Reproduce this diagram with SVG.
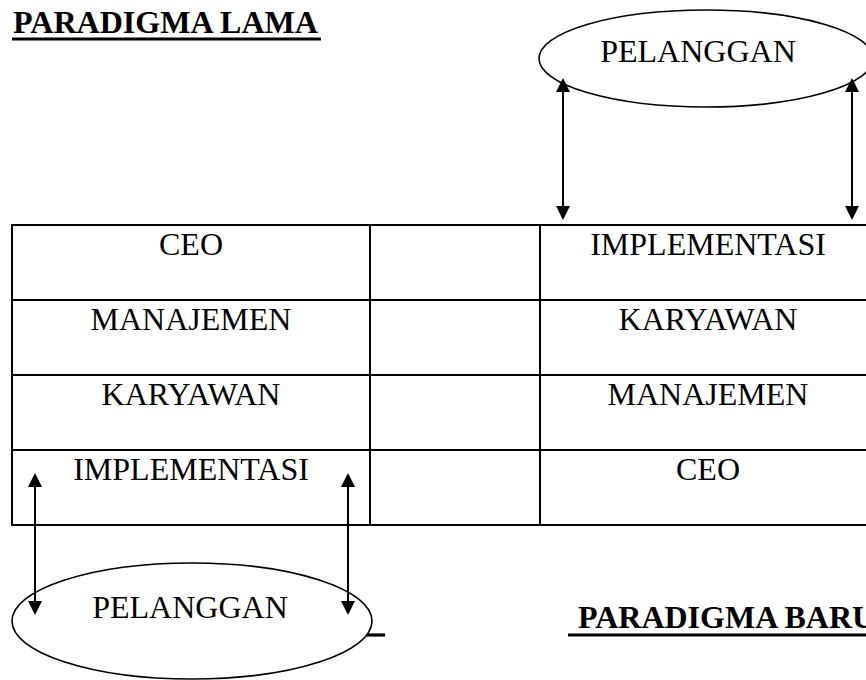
<svg xmlns="http://www.w3.org/2000/svg" width="866" height="680" viewBox="0 0 866 680">
<style>
.t{font-family:"Liberation Serif","Times New Roman",serif;font-size:32px;fill:#000;text-anchor:middle}
.h{font-family:"Liberation Serif","Times New Roman",serif;font-size:32px;font-weight:bold;fill:#000}
.g{stroke:#000;stroke-width:2;fill:none}
.e{stroke:#000;stroke-width:1.6;fill:#fff}
.c{stroke:#000;stroke-width:2;fill:none;marker-start:url(#ah);marker-end:url(#ah)}
.u{stroke:#000;stroke-width:3.2}
</style>
<defs>
<marker id="ah" viewBox="0 0 14 14" refX="0" refY="7" markerWidth="14" markerHeight="14" markerUnits="userSpaceOnUse" orient="auto-start-reverse">
<path d="M0,0 L14,7 L0,14 z" fill="#000"/>
</marker>
</defs>
<rect width="866" height="680" fill="#fff"/>
<g id="title-lama">
<text class="h" x="13" y="33" textLength="305" lengthAdjust="spacingAndGlyphs">PARADIGMA LAMA</text>
<line class="u" x1="12" y1="39" x2="321" y2="39"/>
</g>
<g id="title-baru">
<line class="u" x1="360" y1="635" x2="385" y2="635"/>
<text class="h" x="578" y="628">PARADIGMA BARU</text>
<line class="u" x1="568" y1="635" x2="880" y2="635"/>
</g>
<g id="table">
<rect class="g" x="12" y="225" width="866" height="300"/>
<line class="g" x1="12" y1="300" x2="878" y2="300"/>
<line class="g" x1="12" y1="375" x2="878" y2="375"/>
<line class="g" x1="12" y1="450" x2="878" y2="450"/>
<line class="g" x1="370" y1="225" x2="370" y2="525"/>
<line class="g" x1="540" y1="225" x2="540" y2="525"/>
</g>
<g id="lama-ceo"><text class="t" x="191" y="255">CEO</text></g>
<g id="lama-manajemen"><text class="t" x="191" y="330">MANAJEMEN</text></g>
<g id="lama-karyawan"><text class="t" x="191" y="405">KARYAWAN</text></g>
<g id="lama-implementasi"><text class="t" x="191" y="480">IMPLEMENTASI</text></g>
<g id="baru-implementasi"><text class="t" x="708" y="255">IMPLEMENTASI</text></g>
<g id="baru-karyawan"><text class="t" x="708" y="330">KARYAWAN</text></g>
<g id="baru-manajemen"><text class="t" x="708" y="405">MANAJEMEN</text></g>
<g id="baru-ceo"><text class="t" x="708" y="480">CEO</text></g>
<g id="pelanggan-top">
<ellipse class="e" cx="706" cy="58.5" rx="167" ry="48.5"/>
<text class="t" x="698" y="62">PELANGGAN</text>
</g>
<g id="pelanggan-bottom">
<ellipse class="e" cx="192" cy="621" rx="180" ry="58"/>
<text class="t" x="190" y="618">PELANGGAN</text>
</g>
<g id="connectors">
<line class="c" x1="563" y1="92" x2="563" y2="206"/>
<line class="c" x1="852" y1="92" x2="852" y2="206"/>
<line class="c" x1="35" y1="487" x2="35" y2="601"/>
<line class="c" x1="348" y1="487" x2="348" y2="601"/>
</g>
</svg>
